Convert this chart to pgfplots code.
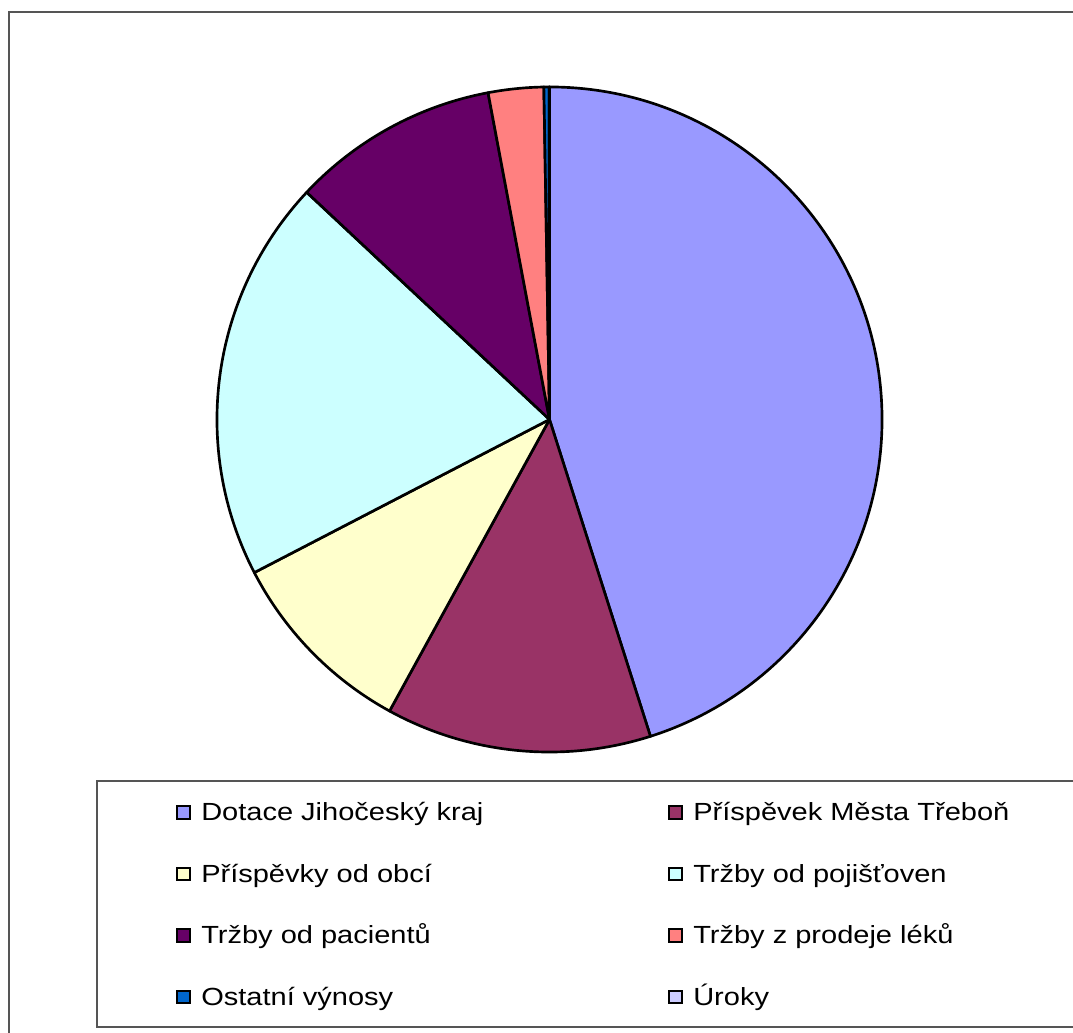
\documentclass[border=0pt]{standalone}
\usepackage{fontspec}
\setmainfont{Liberation Sans}
\newfontfamily\legfam{Liberation Sans}[FakeStretch=1.17]
\usepackage{pgfplots}
\usepackage{pgfplotstable}
\pgfplotsset{compat=1.18}
\definecolor{c1}{HTML}{9999FF}
\definecolor{c2}{HTML}{993366}
\definecolor{c3}{HTML}{FFFFCC}
\definecolor{c4}{HTML}{CCFFFF}
\definecolor{c5}{HTML}{660066}
\definecolor{c6}{HTML}{FF8080}
\definecolor{c7}{HTML}{0066CC}
\definecolor{c8}{HTML}{CCCCFF}
\definecolor{framegray}{HTML}{555555}
\newcommand\legfont{\legfam\fontsize{18.6pt}{22pt}\selectfont}
\pgfplotstableread[col sep=comma]{
name,value,color
Dotace Jihočeský kraj,45.10,c1
Příspěvek Města Třeboň,12.90,c2
Příspěvky od obcí,9.40,c3
Tržby od pojišťoven,19.59,c4
Tržby od pacientů,10.07,c5
Tržby z prodeje léků,2.69,c6
Ostatní výnosy,0.25,c7
Úroky,0.02,c8
}\piedata
\begin{document}
\begin{tikzpicture}
\useasboundingbox (0,0) rectangle (804.75pt,774pt);
\begin{axis}[
  x=0.75pt, y=0.75pt,
  xmin=0, xmax=1073, ymin=0, ymax=1032,
  hide axis, clip=false,
  at={(0,0)}, anchor=south west,
]
% outer frame and legend box
\draw[framegray, line width=1.5pt] (axis cs:8.5,1019.5) rectangle (axis cs:1100,-20);
\draw[framegray, line width=1.3pt] (axis cs:97,251) rectangle (axis cs:1100,5);
% total
\def\total{0}
\pgfplotsforeachungrouped \i in {0,...,7}{%
  \pgfplotstablegetelem{\i}{value}\of\piedata
  \pgfmathsetmacro\total{\total+\pgfplotsretval}%
}
\def\cum{0}
\pgfplotsforeachungrouped \i in {0,...,7}{%
  \pgfplotstablegetelem{\i}{value}\of\piedata \let\val\pgfplotsretval
  \pgfplotstablegetelem{\i}{color}\of\piedata \let\slicecol\pgfplotsretval
  \pgfplotstablegetelem{\i}{name}\of\piedata \let\nam\pgfplotsretval
  \pgfmathsetmacro\angA{90-(\cum/\total)*360}%
  \pgfmathsetmacro\angB{90-((\cum+\val)/\total)*360}%
  \pgfmathsetmacro\lx{183.5+492*mod(\i,2)}%
  \pgfmathsetmacro\ly{1032-(812.5+61.5*floor(\i/2))}%
  \pgfmathsetmacro\tx{\lx+17.5}%
  \pgfmathsetmacro\ty{\ly-8}%
  \edef\temp{%
    \noexpand\filldraw[fill=\slicecol,draw=black,line width=2pt,line join=round] (axis cs:549.5,612.5) -- ++(\angA:249.4pt) arc[start angle=\angA,end angle=\angB,radius=249.4pt] -- cycle;
    \noexpand\filldraw[fill=\slicecol,draw=black,line width=1.4pt] (axis cs:\lx,\ly) ++(-4.6pt,-4.6pt) rectangle ++(9.2pt,9.2pt);
    \noexpand\node[anchor=base west,inner sep=0pt,font=\noexpand\legfont,text=black] at (axis cs:\tx,\ty) {\unexpanded\expandafter{\nam}};
  }%
  \temp
  \pgfmathsetmacro\cum{\cum+\val}%
}
\end{axis}
\end{tikzpicture}
\end{document}
